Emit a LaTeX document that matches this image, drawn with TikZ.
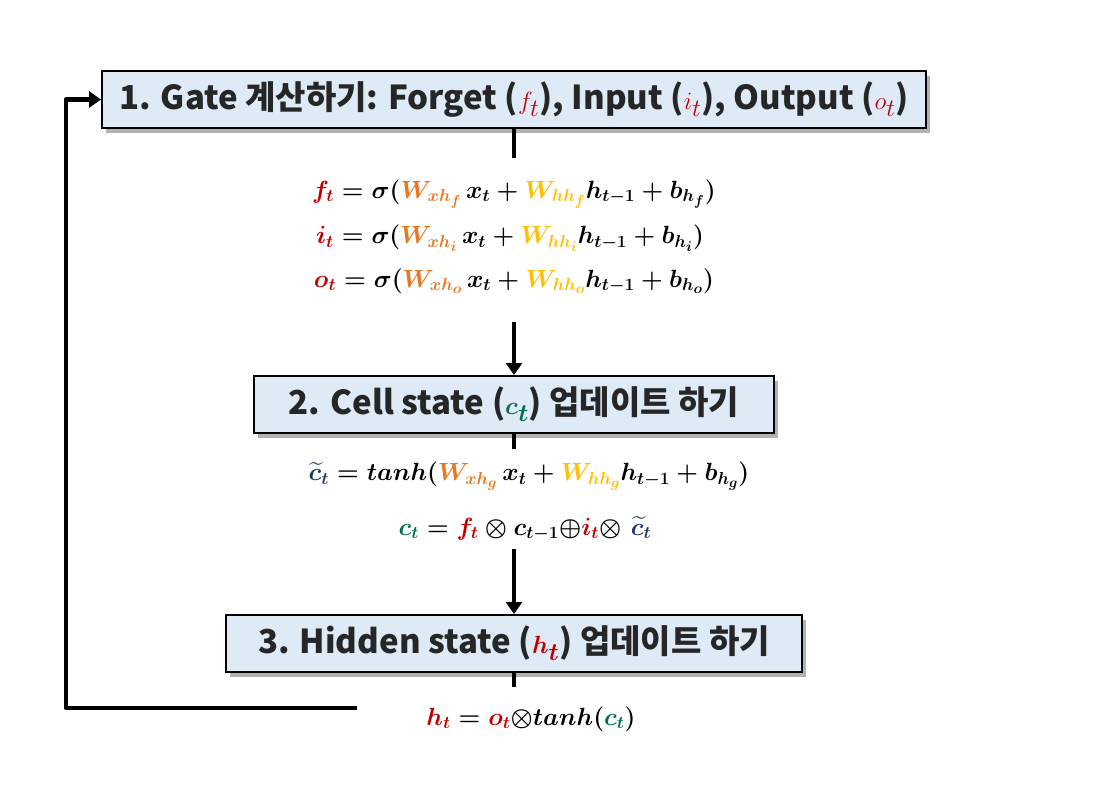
\documentclass[tikz,border=0pt]{standalone}
\usepackage{fontspec}
\usepackage{amsmath}
\newfontfamily\kr{Noto Sans CJK KR}
\usetikzlibrary{shadows,arrows.meta}
\DeclareMathSizes{24}{24}{18.5}{15}
\DeclareMathSizes{38}{38}{28}{22}
\definecolor{dred}{HTML}{C00000}
\definecolor{orng}{HTML}{E87722}
\definecolor{gold}{HTML}{FFC000}
\definecolor{grn}{HTML}{00704A}
\definecolor{dblue}{HTML}{1F3864}
\definecolor{boxfill}{HTML}{DEEAF6}
\definecolor{txt}{HTML}{262626}
\newcommand{\tm}[1]{{\fontsize{38}{40}\selectfont$#1$}}
\begin{document}
\begin{tikzpicture}[x=1pt,y=-1pt,
 box/.style={draw=black, line width=2pt, fill=boxfill,
   drop shadow={shadow xshift=4pt, shadow yshift=-5pt, fill=black, opacity=0.3},
   minimum height=57pt, inner sep=0pt, text=txt,
   font=\kr\bfseries\fontsize{33}{36}\selectfont},
 eq/.style={font=\fontsize{24}{30}\selectfont\boldmath, inner sep=0pt},
 stub/.style={line width=4.5pt},
 arr/.style={line width=4.5pt, -{Triangle[length=12pt,width=16pt]}}]
\useasboundingbox (0,0) rectangle (1107,792);
\fill[white] (0,0) rectangle (1107,792);

\node[box, minimum width=824pt] (b1) at (514,99.5)
  {1. Gate 계산하기: Forget ({\color{dred}\tm{f_t}}), Input ({\color{dred}\tm{i_t}}), Output ({\color{dred}\tm{o_t}})};
\node[box, minimum width=520pt] (b2) at (514,404.5)
  {2. Cell state ({\color{grn}\tm{\boldsymbol{c_t}}}) 업데이트 하기};
\node[box, minimum width=576pt] (b3) at (514,643.5)
  {3. Hidden state ({\color{dred}\tm{\boldsymbol{h_t}}}) 업데이트 하기};

\node[eq] (e1) at (514,194) {${\color{dred}f_t} = \sigma({\color{orng}W_{xh_f}}\, x_t + {\color{gold}W_{hh_f}} h_{t-1} + b_{h_f})$};
\node[eq] (e2) at (510,238) {${\color{dred}i_t} = \sigma({\color{orng}W_{xh_i}}\, x_t + {\color{gold}W_{hh_i}} h_{t-1} + b_{h_i})$};
\node[eq] (e3) at (514,281) {${\color{dred}o_t} = \sigma({\color{orng}W_{xh_o}}\, x_t + {\color{gold}W_{hh_o}} h_{t-1} + b_{h_o})$};

\node[eq] (e4) at (529,476) {${\color{dblue}\widetilde{c}_t} = tanh({\color{orng}W_{xh_g}}\, x_t + {\color{gold}W_{hh_g}} h_{t-1} + b_{h_g})$};
\node[eq] (e5) at (525,529) {${\color{grn}c_t} = {\color{dred}f_t} \otimes c_{t-1}{\oplus}{\color{dred}i_t}{\otimes}\,\, {\color{dblue}\widetilde{c}_t}$};

\node[eq] (e6) at (531,719) {${\color{dred}h_t} = {\color{dred}o_t}{\otimes} tanh({\color{grn}c_t})$};

\coordinate (s1) at (514,158);
\coordinate (a1) at (514,322);
\coordinate (s2) at (514,449);
\coordinate (a2) at (514,549);
\coordinate (s3) at (514,687);
\coordinate (fb) at (357,708);
\coordinate (fc) at (66,708);

\draw[stub] (b1.south) -- (s1);
\draw[arr] (a1) -- (b2.north);
\draw[stub] (b2.south) -- (s2);
\draw[arr] (a2) -- (b3.north);
\draw[stub] (b3.south) -- (s3);
\draw[arr, line join=round] (fb) -- (fc) |- (b1.west);
\end{tikzpicture}
\end{document}
